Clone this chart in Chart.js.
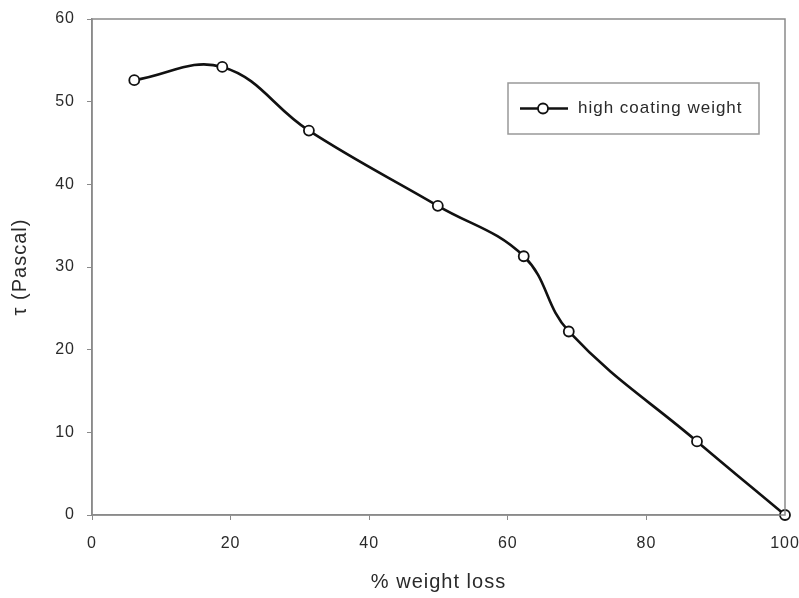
<!DOCTYPE html>
<html lang="en">
<head>
    <meta charset="UTF-8">
    <title>Shear stress vs weight loss</title>
    <script src="https://cdn.jsdelivr.net/npm/chart.js"></script>
    <style>
        body { margin: 0; background: #fff; }
        #wrap { width: 799px; height: 598px; position: relative; }
    </style>
</head>
<body>
    <div id="wrap"><canvas id="chart"></canvas></div>
    <script>
        const weightLoss = [6.1, 18.8, 31.3, 49.9, 62.3, 68.8, 87.3, 100];
        const tau = [52.6, 54.2, 46.5, 37.4, 31.3, 22.2, 8.9, 0];
        const seriesLabel = 'high coating weight';
        const axisColor = '#8a8a8a';
        const textColor = '#2a2a2a';
        const fontFamily = '"Liberation Sans", Arial, sans-serif';

        // slightly spaced lettering for all canvas text
        const spacing = {
            id: 'spacing',
            beforeLayout(chart) { chart.ctx.letterSpacing = '1px'; },
            beforeDraw(chart) { chart.ctx.letterSpacing = '1px'; }
        };

        // box around the plot area (top and right edges included)
        const frame = {
            id: 'frame',
            afterDraw(chart) {
                const { ctx, chartArea: a } = chart;
                ctx.save();
                ctx.strokeStyle = axisColor;
                ctx.lineWidth = 1.5;
                ctx.strokeRect(a.left, a.top, a.right - a.left, a.bottom - a.top);
                ctx.restore();
            }
        };

        // legend box inside the plot, upper right
        const insideLegend = {
            id: 'insideLegend',
            afterDraw(chart) {
                const ctx = chart.ctx;
                const x = 508, y = 83, w = 251, h = 51;
                ctx.save();
                ctx.fillStyle = '#fff';
                ctx.fillRect(x, y, w, h);
                ctx.strokeStyle = '#999';
                ctx.lineWidth = 1.5;
                ctx.strokeRect(x, y, w, h);
                const cy = y + h / 2;
                ctx.strokeStyle = '#111';
                ctx.lineWidth = 2.5;
                ctx.beginPath();
                ctx.moveTo(x + 12, cy);
                ctx.lineTo(x + 60, cy);
                ctx.stroke();
                ctx.beginPath();
                ctx.arc(x + 35, cy, 5, 0, Math.PI * 2);
                ctx.fillStyle = '#fff';
                ctx.fill();
                ctx.lineWidth = 1.8;
                ctx.stroke();
                ctx.fillStyle = textColor;
                ctx.font = '17px ' + fontFamily;
                ctx.textBaseline = 'middle';
                ctx.fillText(seriesLabel, x + 70, cy);
                ctx.restore();
            }
        };

        new Chart(document.getElementById('chart'), {
            type: 'line',
            data: {
                datasets: [{
                    label: seriesLabel,
                    data: weightLoss.map((v, i) => ({ x: v, y: tau[i] })),
                    borderColor: '#111',
                    borderWidth: 2.6,
                    tension: 0.4,
                    pointRadius: 5,
                    pointBorderWidth: 1.8,
                    pointBackgroundColor: '#fff',
                    pointBorderColor: '#111',
                    clip: false
                }]
            },
            options: {
                responsive: true,
                maintainAspectRatio: false,
                animation: false,
                layout: { padding: { top: 19, right: 14, left: 8, bottom: 4 } },
                plugins: { legend: { display: false }, tooltip: { enabled: false } },
                scales: {
                    x: {
                        type: 'linear', min: 0, max: 100,
                        afterFit(s) { s.height = 79; s.paddingLeft = 0; s.paddingRight = 0; },
                        ticks: { stepSize: 20, color: textColor, padding: 14,
                                 font: { family: fontFamily, size: 16 } },
                        grid: { drawOnChartArea: false, color: axisColor, tickLength: 5 },
                        border: { color: axisColor, width: 1.5 },
                        title: { display: true, text: '% weight loss', color: textColor, padding: 0,
                                 font: { family: fontFamily, size: 20 } }
                    },
                    y: {
                        min: 0, max: 60,
                        afterFit(s) { s.width = 84; s.paddingTop = 0; s.paddingBottom = 0; },
                        ticks: { stepSize: 10, color: textColor, padding: 12,
                                 font: { family: fontFamily, size: 16 } },
                        grid: { drawOnChartArea: false, color: axisColor, tickLength: 5 },
                        border: { color: axisColor, width: 1.5 },
                        title: { display: true, text: 'τ (Pascal)', color: textColor, padding: 0,
                                 font: { family: fontFamily, size: 20 } }
                    }
                }
            },
            plugins: [spacing, frame, insideLegend]
        });
    </script>
</body>
</html>
